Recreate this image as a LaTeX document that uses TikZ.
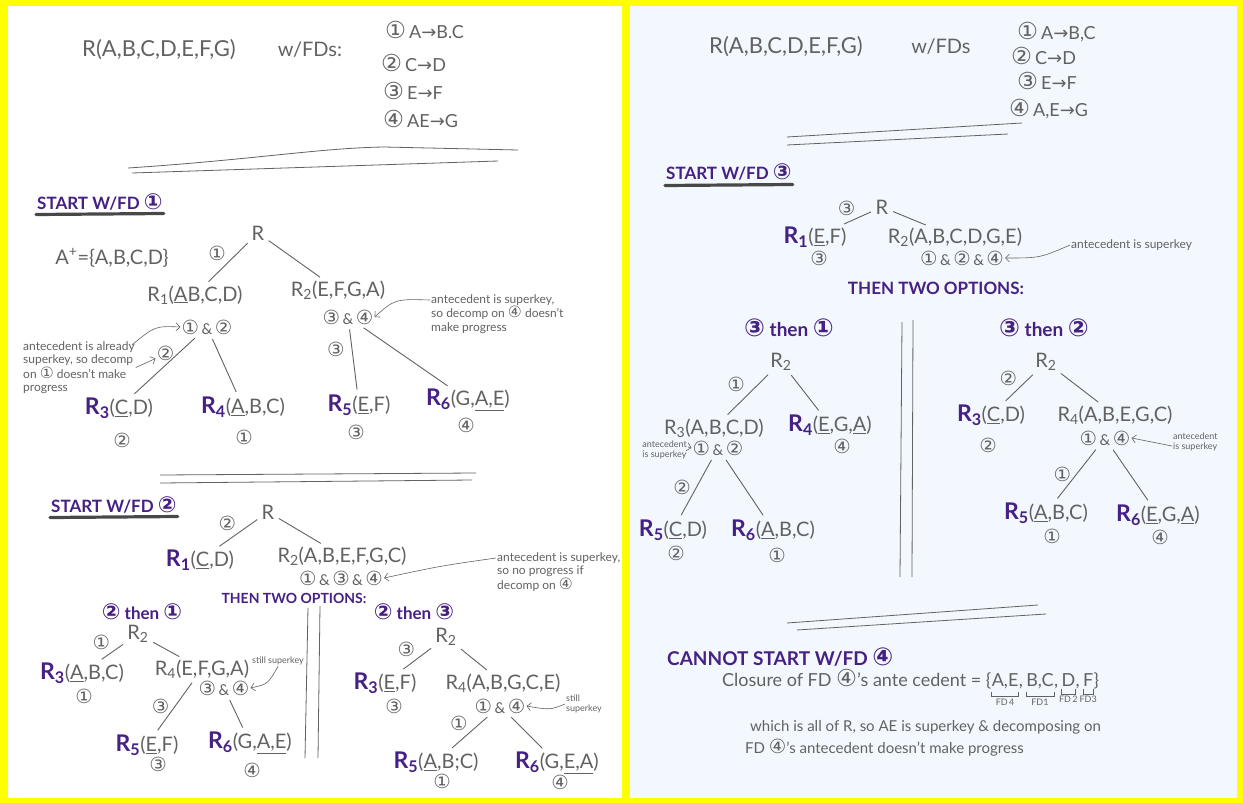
\documentclass[tikz,border=0pt]{standalone}
\usepackage{graphicx}
\usepackage{fontspec}
\setmainfont{Lato}
\newfontfamily\symfont{DejaVu Sans}
\usetikzlibrary{arrows.meta,positioning}
\definecolor{frameyellow}{RGB}{255,255,0}
\definecolor{bluepaper}{RGB}{242,248,253}
\definecolor{pencil}{RGB}{98,98,98}
\definecolor{marker}{RGB}{70,32,132}
\definecolor{smudge}{RGB}{72,72,72}

\newcommand{\cn}[1]{\scalebox{1.3}{\symfont\ifcase#1\or ①\or ②\or ③\or ④\fi}}
\newcommand{\arr}{{\symfont →}}
\newcommand{\rel}[1]{{\color{marker}\bfseries\fontsize{23}{24}\selectfont R\textsubscript{#1}}}

\tikzset{
  hand/.style={text=pencil, inner sep=1pt, font=\fontsize{20}{22}\selectfont},
  bighand/.style={hand, font=\fontsize{22}{24}\selectfont},
  fdline/.style={hand, anchor=west, font=\fontsize{18}{20}\selectfont},
  fdnum/.style={text=pencil, inner sep=1pt, font=\fontsize{15}{16}\selectfont},
  note/.style={text=pencil, inner sep=1pt, align=left, font=\fontsize{12}{13.5}\selectfont},
  tinynote/.style={text=pencil, inner sep=1pt, align=left, font=\fontsize{9}{10}\selectfont},
  heading/.style={text=marker, inner sep=1pt, anchor=west, font=\fontsize{17}{19}\selectfont\bfseries},
  branch/.style={draw=pencil, line width=0.9pt, shorten <=4pt, shorten >=4pt},
  rule/.style={draw=pencil, line width=0.8pt},
  smear/.style={draw=smudge, line width=3.2pt, line cap=round},
  pointer/.style={draw=pencil, line width=0.6pt, -{Straight Barb[length=4pt]}},
  grp/.style={hand, inner sep=0pt, font=\fontsize{18}{20}\selectfont},
}

\begin{document}
\begin{tikzpicture}[x=1pt, y=-1pt]
  \useasboundingbox (0,0) rectangle (1243,803);

  % the two sheets on the yellow frame
  \fill[frameyellow] (0,0) rectangle (1243,803);
  \fill[white] (8,6) rectangle (622,798);
  \fill[bluepaper] (630,6) rectangle (1237,798);

  %%%%%%%%%%%%%%%% left sheet %%%%%%%%%%%%%%%%

  % relation and its FDs
  \node[bighand] (lrel) at (159,50) {R(A,B,C,D,E,F,G)};
  \node[hand] (lwith) at (310,50) {w/FDs:};
  \node[fdline] (lfd1) at (384,30) {\cn1\,A\arr B.C};
  \node[fdline] (lfd2) at (380,63) {\cn2\,C\arr D};
  \node[fdline] (lfd3) at (382,91) {\cn3\,E\arr F};
  \node[fdline] (lfd4) at (382,119) {\cn4\,AE\arr G};
  \draw[rule] (128,168) .. controls (250,160) and (320,148) .. (384,147) -- (518,150);
  \draw[rule] (132,173) -- (498,161);

  % start with FD 1
  \node[heading] (s1) at (36,202) {START W/FD \cn1};
  \draw[smear] ([yshift=-3pt]s1.south west) -- ([yshift=-2pt]s1.south east);

  \node[hand] (t1r) at (258,233) {R};
  \node[hand] (t1plus) at (112,258) {A\textsuperscript{+}=\{A,B,C,D\}};
  \node[hand] (t1a) at (195,295) {R\textsubscript{1}(\underline{A}B,C,D)};
  \node[fdnum] (t1af) at (207,327) {\cn1\,\&\,\cn2};
  \node[hand] (t1b) at (338,290) {R\textsubscript{2}(E,F,G,A)};
  \node[fdnum] (t1bf) at (348,317) {\cn3\,\&\,\cn4};
  \node[hand] (t1c) at (119,408) {\rel3(\underline{C},D)};
  \node[fdnum] (t1cf) at (122,440) {\cn2};
  \node[hand] (t1d) at (243,407) {\rel4(\underline{A},B,C)};
  \node[fdnum] (t1df) at (244,437) {\cn1};
  \node[hand] (t1e) at (359,405) {\rel5(\underline{E},F)};
  \node[fdnum] (t1ef) at (356,432) {\cn3};
  \node[hand] (t1f) at (468,400) {\rel6(G,\underline{A,E})};
  \node[fdnum] (t1ff) at (466,425) {\cn4};

  \draw[branch] (t1r) -- (t1a) node[midway, above left=1pt, fdnum] (t1e1) {\cn1};
  \draw[branch] (t1r) -- (t1b);
  \draw[branch] (t1af) -- (t1c) node[pos=.3, left=2pt, fdnum] (t1e2) {\cn2};
  \draw[branch] (t1af) -- (t1d);
  \draw[branch] (t1bf) -- (t1e) node[pos=.35, left=6pt, fdnum] (t1e3) {\cn3};
  \draw[branch] (t1bf) -- (t1f);

  % side notes
  \node[note, anchor=north west] (t1an) at (22,340) {antecedent is already\\superkey, so decomp\\on \cn1 doesn't make\\progress};
  \draw[pointer] ([xshift=-4pt,yshift=-5pt]t1an.north east) .. controls (155,326) .. (t1af.west);
  \draw[pointer] (t1an.east) -- (t1e2);
  \node[note, anchor=north west] (t1bn) at (430,293) {antecedent is superkey,\\so decomp on \cn4 doesn't\\make progress};
  \draw[pointer] ([yshift=-7pt]t1bn.north west) .. controls (395,299) .. (t1bf.east);

  \draw[rule] (160,475) -- (476,473);
  \draw[rule] (160,483) -- (472,480);

  % start with FD 2
  \node[heading] (s2) at (50,505) {START W/FD \cn2};
  \draw[smear] ([yshift=-3pt]s2.south west) -- ([yshift=-2pt]s2.south east);

  \node[hand] (t2r) at (268,512) {R};
  \node[hand] (t2a) at (200,560) {\rel1(\underline{C},D)};
  \node[hand] (t2b) at (342,556) {R\textsubscript{2}(A,B,E,F,G,C)};
  \node[fdnum] (t2bf) at (341,578) {\cn1\,\&\,\cn3\,\&\,\cn4};
  \draw[branch] (t2r) -- (t2a) node[midway, above left=1pt, fdnum] (t2e1) {\cn2};
  \draw[branch] (t2r) -- (t2b);
  \node[note, anchor=north west] (t2bn) at (496,551) {antecedent is superkey,\\so no progress if\\decomp on \cn4};
  \draw[pointer] ([yshift=-7pt]t2bn.north west) .. controls (440,566) .. (t2bf.east);

  \node[heading, anchor=center, font=\fontsize{14}{16}\selectfont\bfseries] (t2opt) at (294,598) {THEN TWO OPTIONS:};
  \draw[rule] (308,608) -- (305,758);
  \draw[rule] (320,606) -- (318,758);

  % 2 then 1
  \node[heading, anchor=center] (o21) at (142,612) {\cn2 then \cn1};
  \node[hand] (u1r) at (138,634) {R\textsubscript{2}};
  \node[hand] (u1a) at (82,673) {\rel3(\underline{A},B,C)};
  \node[fdnum] (u1af) at (84,696) {\cn1};
  \node[hand] (u1b) at (202,669) {R\textsubscript{4}(E,F,G,A)};
  \node[fdnum] (u1bf) at (224,688) {\cn3\,\&\,\cn4};
  \node[tinynote] (u1bn) at (278,661) {still superkey};
  \draw[pointer] (u1bn.south) .. controls (268,684) .. (u1bf.east);
  \node[hand] (u1c) at (147,745) {\rel5(\underline{E},F)};
  \node[fdnum] (u1cf) at (158,764) {\cn3};
  \node[hand] (u1d) at (250,743) {\rel6(G,\underline{A,E})};
  \node[fdnum] (u1df) at (252,770) {\cn4};
  \draw[branch] (u1r) -- (u1a) node[midway, above left=1pt, fdnum] (u1e1) {\cn1};
  \draw[branch] (u1r) -- (u1b);
  \draw[branch] (u1b) -- (u1c) node[midway, left=4pt, fdnum] (u1e2) {\cn3};
  \draw[branch] (u1bf) -- (u1d);

  % 2 then 3
  \node[heading, anchor=center] (o23) at (414,612) {\cn2 then \cn3};
  \node[hand] (u2r) at (446,637) {R\textsubscript{2}};
  \node[hand] (u2a) at (385,683) {\rel3(\underline{E},F)};
  \node[fdnum] (u2af) at (394,706) {\cn3};
  \node[hand] (u2b) at (503,683) {R\textsubscript{4}(A,B,G,C,E)};
  \node[fdnum] (u2bf) at (500,706) {\cn1\,\&\,\cn4};
  \node[tinynote] (u2bn) at (584,704) {still\\superkey};
  \draw[pointer] (u2bn.west) .. controls (550,710) .. (u2bf.east);
  \node[hand] (u2c) at (436,762) {\rel5(\underline{A},B;C)};
  \node[fdnum] (u2cf) at (442,781) {\cn1};
  \node[hand] (u2d) at (557,763) {\rel6(G,\underline{E,A})};
  \node[fdnum] (u2df) at (560,782) {\cn4};
  \draw[branch] (u2r) -- (u2a) node[midway, above left=1pt, fdnum] (u2e1) {\cn3};
  \draw[branch] (u2r) -- (u2b);
  \draw[branch] (u2bf) -- (u2c) node[midway, above left=1pt, fdnum] (u2e2) {\cn1};
  \draw[branch] (u2bf) -- (u2d);

  %%%%%%%%%%%%%%%% right sheet %%%%%%%%%%%%%%%%

  \node[bighand] (rrel) at (786,47) {R(A,B,C,D,E,F,G)};
  \node[hand] (rwith) at (941,47) {w/FDs};
  \node[fdline] (rfd1) at (1016,32) {\cn1\,A\arr B,C};
  \node[fdline] (rfd2) at (1010,56) {\cn2\,C\arr D};
  \node[fdline] (rfd3) at (1016,81) {\cn3\,E\arr F};
  \node[fdline] (rfd4) at (1008,109) {\cn4\,A,E\arr G};
  \draw[rule] (787,137) -- (1022,123);
  \draw[rule] (787,145) -- (1008,134);

  % start with FD 3
  \node[heading] (s3) at (665,172) {START W/FD \cn3};
  \draw[smear] ([yshift=-4pt]s3.south west) -- ([yshift=-3pt]s3.south east);

  \node[hand] (t3r) at (882,207) {R};
  \node[hand] (t3a) at (815,237) {\rel1(\underline{E},F)};
  \node[fdnum] (t3af) at (819,258) {\cn3};
  \node[hand] (t3b) at (955,237) {R\textsubscript{2}(A,B,C,D,G,E)};
  \node[fdnum] (t3bf) at (962,258) {\cn1\,\&\,\cn2\,\&\,\cn4};
  \node[note, anchor=west] (t3bn) at (1070,245) {antecedent is superkey};
  \draw[pointer] (t3bn.west) .. controls (1040,258) .. (t3bf.east);
  \draw[branch] (t3r) -- (t3a) node[midway, above left=1pt, fdnum] (t3e1) {\cn3};
  \draw[branch] (t3r) -- (t3b);

  \node[heading, anchor=center] (t3opt) at (936,288) {THEN TWO OPTIONS:};
  \draw[rule] (902,322) -- (900,577);
  \draw[rule] (913,320) -- (912,577);

  % 3 then 1
  \node[heading, anchor=center, font=\fontsize{19}{21}\selectfont\bfseries] (o31) at (789,328) {\cn3 then \cn1};
  \node[hand] (v1r) at (781,362) {R\textsubscript{2}};
  \node[hand] (v1a) at (714,428) {R\textsubscript{3}(A,B,C,D)};
  \node[fdnum] (v1af) at (718,448) {\cn1\,\&\,\cn2};
  \node[tinynote, anchor=east] (v1an) at (688,450) {antecedent\\is superkey};
  \draw[pointer] ([yshift=3pt]v1an.east) -- (v1af.west);
  \node[hand] (v1b) at (830,425) {\rel4(\underline{E},G,\underline{A})};
  \node[fdnum] (v1bf) at (842,446) {\cn4};
  \node[hand] (v1c) at (673,530) {\rel5(\underline{C},D)};
  \node[fdnum] (v1cf) at (676,553) {\cn2};
  \node[hand] (v1d) at (773,530) {\rel6(\underline{A},B,C)};
  \node[fdnum] (v1df) at (777,555) {\cn1};
  \draw[branch] (v1r) -- (v1a) node[midway, above left=2pt, fdnum] (v1e1) {\cn1};
  \draw[branch] (v1r) -- (v1b);
  \draw[branch] (v1af) -- (v1c) node[midway, left=4pt, fdnum] (v1e2) {\cn2};
  \draw[branch] (v1af) -- (v1d);

  % 3 then 2
  \node[heading, anchor=center, font=\fontsize{19}{21}\selectfont\bfseries] (o32) at (1044,328) {\cn3 then \cn2};
  \node[hand] (v2r) at (1046,362) {R\textsubscript{2}};
  \node[hand] (v2a) at (991,415) {\rel3(\underline{C},D)};
  \node[fdnum] (v2af) at (988,445) {\cn2};
  \node[hand] (v2b) at (1115,415) {R\textsubscript{4}(A,B,E,G,C)};
  \node[fdnum] (v2bf) at (1105,438) {\cn1\,\&\,\cn4};
  \node[tinynote, anchor=west] (v2bn) at (1172,442) {antecedent\\is superkey};
  \draw[pointer] ([yshift=-4pt]v2bn.west) -- (v2bf.east);
  \node[hand] (v2c) at (1046,513) {\rel5(\underline{A},B,C)};
  \node[fdnum] (v2cf) at (1052,536) {\cn1};
  \node[hand] (v2d) at (1158,515) {\rel6(\underline{E},G,\underline{A})};
  \node[fdnum] (v2df) at (1160,537) {\cn4};
  \draw[branch] (v2r) -- (v2a) node[midway, above left=1pt, fdnum] (v2e1) {\cn2};
  \draw[branch] (v2r) -- (v2b);
  \draw[branch] (v2bf) -- (v2c) node[midway, left=4pt, fdnum] (v2e2) {\cn1};
  \draw[branch] (v2bf) -- (v2d);

  \draw[rule] (787,623) -- (1038,605);
  \draw[rule] (797,630) -- (1046,614);

  % cannot start with FD 4
  \node[heading, font=\fontsize{19}{21}\selectfont\bfseries] (s4) at (666,657) {CANNOT START W/FD \cn4};
  \node[grp, anchor=base west] (cl0) at (722,686) {Closure of FD \cn4's ante cedent = \{};
  \node[grp, base right=0pt of cl0] (clg1) {A,E};
  \node[grp, base right=0pt of clg1] (clc1) {,\,};
  \node[grp, base right=0pt of clc1] (clg2) {B,C};
  \node[grp, base right=0pt of clg2] (clc2) {,\,};
  \node[grp, base right=0pt of clc2] (clg3) {D};
  \node[grp, base right=0pt of clg3] (clc3) {,\,};
  \node[grp, base right=0pt of clc3] (clg4) {F};
  \node[grp, base right=0pt of clg4] (cl1) {\}};
  \foreach \g/\t in {clg1/FD\,4, clg2/FD1, clg3/FD\,2, clg4/FD3} {
    \draw[rule, line width=0.6pt] ([yshift=-3pt]\g.south west) -- ++(0,5) -- ([yshift=-8pt]\g.south east) -- ++(0,-5);
    \node[tinynote, below=9pt of \g] (\g t) {\t};
  }
  \node[hand, anchor=west, font=\fontsize{15}{17}\selectfont] (wh1) at (749,727) {which is all of R, so AE is superkey \& decomposing on};
  \node[hand, anchor=west, font=\fontsize{15}{17}\selectfont] (wh2) at (744,748) {FD \cn4's antecedent doesn't make progress};
\end{tikzpicture}
\end{document}
